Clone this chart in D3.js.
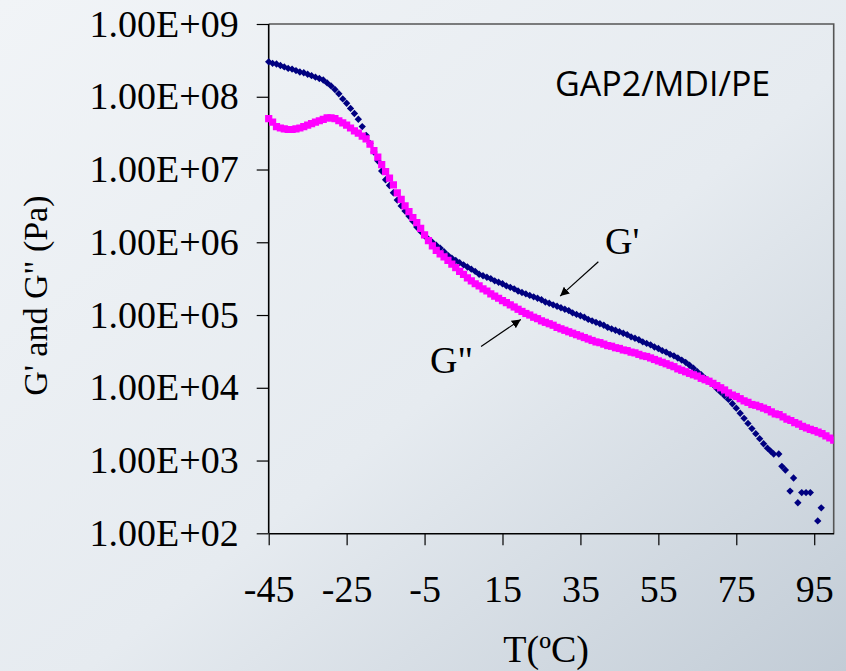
<!DOCTYPE html>
<html>
<head>
<meta charset="utf-8">
<script src="https://cdn.jsdelivr.net/npm/d3@7"></script>
<style>
  html, body { margin: 0; padding: 0; }
  body { width: 846px; height: 671px; overflow: hidden; }
  .axis text { font-family: "Liberation Serif", "Times New Roman", serif; font-size: 38px; fill: #000; }
  .axis line { stroke: #000; stroke-width: 1.2; }
  .axis path { stroke: #000; stroke-width: 1.6; }
</style>
</head>
<body>
<div id="chart"></div>
<script>
// temperatures (ºC) and moduli (Pa)
const tempG1 = [-45, -44, -43, -42, -41, -40, -39, -38, -37, -36, -35, -34, -33, -32, -31, -30,
  -29, -28, -27, -26, -25, -24, -23, -22, -21, -20, -19, -18, -17, -16, -15, -14, -13, -12,
  -11, -10, -9, -8, -7, -6, -5, -4, -3, -2, -1, 0, 1, 2, 3, 4, 5, 6, 7, 8, 9, 10, 11, 12,
  13, 14, 15, 16, 17, 18, 19, 20, 21, 22, 23, 24, 25, 26, 27, 28, 29, 30, 31, 32, 33, 34,
  35, 36, 37, 38, 39, 40, 41, 42, 43, 44, 45, 46, 47, 48, 49, 50, 51, 52, 53, 54, 55, 56,
  57, 58, 59, 60, 61, 62, 63, 64, 65, 66, 67, 68, 69, 70, 71, 72, 73, 74, 75, 76, 77, 78,
  79, 80, 81, 82, 83, 83.8, 84.6, 85.9, 86.7, 87.6, 88.8, 89.7, 90.8, 91.8, 92.9, 94.0,
  95.9, 96.8];
const gPrime = [3.02e8, 2.88e8, 2.82e8, 2.69e8, 2.57e8, 2.45e8, 2.40e8, 2.29e8, 2.19e8, 2.14e8,
  2.04e8, 1.95e8, 1.86e8, 1.78e8, 1.70e8, 1.55e8, 1.41e8, 1.26e8, 1.10e8, 9.33e7, 8.13e7,
  6.92e7, 5.89e7, 4.90e7, 3.89e7, 2.95e7, 2.29e7, 1.74e7, 1.32e7, 9.55e6, 7.24e6, 6.03e6,
  4.79e6, 3.80e6, 3.16e6, 2.69e6, 2.29e6, 1.95e6, 1.62e6, 1.41e6, 1.23e6, 1.10e6, 1.00e6,
  9.12e5, 8.32e5, 7.41e5, 6.61e5, 6.03e5, 5.62e5, 5.25e5, 4.90e5, 4.57e5, 4.27e5, 3.98e5,
  3.63e5, 3.47e5, 3.31e5, 3.16e5, 2.95e5, 2.82e5, 2.69e5, 2.51e5, 2.40e5, 2.29e5, 2.14e5,
  2.04e5, 1.95e5, 1.86e5, 1.78e5, 1.70e5, 1.62e5, 1.51e5, 1.45e5, 1.38e5, 1.32e5, 1.26e5,
  1.20e5, 1.15e5, 1.07e5, 1.02e5, 9.77e4, 9.33e4, 8.71e4, 8.32e4, 7.94e4, 7.59e4, 7.24e4,
  6.76e4, 6.46e4, 6.17e4, 5.89e4, 5.62e4, 5.37e4, 5.01e4, 4.79e4, 4.57e4, 4.27e4, 4.07e4,
  3.89e4, 3.63e4, 3.47e4, 3.24e4, 3.09e4, 2.88e4, 2.75e4, 2.57e4, 2.40e4, 2.24e4, 2.04e4,
  1.86e4, 1.66e4, 1.51e4, 1.35e4, 1.23e4, 1.12e4, 9.77e3, 8.71e3, 7.76e3, 6.92e3, 6.03e3,
  5.25e3, 4.47e3, 3.80e3, 3.24e3, 2.75e3, 2.34e3, 2.00e3, 1.70e3, 1.48e3, 1.35e3, 1.23e3,
  1.23e3, 8.32e2, 7.41e2, 3.80e2, 5.75e2, 2.63e2, 3.63e2, 3.63e2, 3.63e2, 1.48e2, 2.24e2];

const tempG2 = [-45, -44, -43, -42, -41, -40, -39, -38, -37, -36, -35, -34, -33, -32, -31, -30,
  -29, -28, -27, -26, -25, -24, -23, -22, -21, -20, -19, -18, -17, -16, -15, -14, -13, -12,
  -11, -10, -9, -8, -7, -6, -5, -4, -3, -2, -1, 0, 1, 2, 3, 4, 5, 6, 7, 8, 9, 10, 11, 12,
  13, 14, 15, 16, 17, 18, 19, 20, 21, 22, 23, 24, 25, 26, 27, 28, 29, 30, 31, 32, 33, 34,
  35, 36, 37, 38, 39, 40, 41, 42, 43, 44, 45, 46, 47, 48, 49, 50, 51, 52, 53, 54, 55, 56,
  57, 58, 59, 60, 61, 62, 63, 64, 65, 66, 67, 68, 69, 70, 71, 72, 73, 74, 75, 76, 77, 78,
  79, 80, 81, 82, 83, 84, 85, 86, 87, 88, 89, 90, 91, 92, 93, 94, 95, 96, 97, 98, 99, 100];
const gDouble = [5.01e7, 4.47e7, 3.89e7, 3.72e7, 3.63e7, 3.55e7, 3.55e7, 3.63e7, 3.72e7, 3.89e7,
  4.07e7, 4.27e7, 4.47e7, 4.68e7, 4.90e7, 5.13e7, 5.13e7, 5.01e7, 4.68e7, 4.37e7, 4.07e7,
  3.72e7, 3.39e7, 3.16e7, 2.88e7, 2.63e7, 2.24e7, 1.82e7, 1.48e7, 1.17e7, 9.33e6, 7.59e6,
  6.17e6, 4.79e6, 3.89e6, 3.16e6, 2.63e6, 2.19e6, 1.86e6, 1.55e6, 1.26e6, 1.05e6, 8.91e5,
  7.76e5, 6.92e5, 6.31e5, 5.62e5, 5.01e5, 4.47e5, 3.98e5, 3.63e5, 3.24e5, 2.95e5, 2.69e5,
  2.51e5, 2.29e5, 2.14e5, 1.95e5, 1.82e5, 1.70e5, 1.58e5, 1.48e5, 1.38e5, 1.29e5, 1.20e5,
  1.12e5, 1.05e5, 1.00e5, 9.33e4, 8.91e4, 8.32e4, 7.94e4, 7.59e4, 7.24e4, 6.76e4, 6.46e4,
  6.17e4, 5.89e4, 5.62e4, 5.37e4, 5.13e4, 4.90e4, 4.68e4, 4.47e4, 4.27e4, 4.17e4, 3.98e4,
  3.80e4, 3.72e4, 3.55e4, 3.47e4, 3.31e4, 3.24e4, 3.09e4, 3.02e4, 2.88e4, 2.75e4, 2.69e4,
  2.57e4, 2.45e4, 2.34e4, 2.24e4, 2.14e4, 2.04e4, 1.95e4, 1.82e4, 1.74e4, 1.66e4, 1.58e4,
  1.51e4, 1.45e4, 1.35e4, 1.29e4, 1.23e4, 1.15e4, 1.07e4, 1.00e4, 9.33e3, 8.51e3, 7.94e3,
  7.59e3, 7.08e3, 6.61e3, 6.31e3, 5.89e3, 5.75e3, 5.50e3, 5.25e3, 5.01e3, 4.68e3, 4.37e3,
  4.27e3, 3.98e3, 3.72e3, 3.55e3, 3.31e3, 3.16e3, 2.95e3, 2.82e3, 2.69e3, 2.57e3, 2.45e3,
  2.34e3, 2.19e3, 2.04e3, 1.91e3];

const xTicks = [-45, -25, -5, 15, 35, 55, 75, 95];
const xTickLabels = ['-45', '-25', '-5', '15', '35', '55', '75', '95'];
const yTicks = [1e2, 1e3, 1e4, 1e5, 1e6, 1e7, 1e8, 1e9];
const yTickLabels = ['1.00E+02', '1.00E+03', '1.00E+04', '1.00E+05', '1.00E+06', '1.00E+07', '1.00E+08', '1.00E+09'];

const w = 846, h = 671;
const margin = { top: 24, right: 12.3, bottom: 137.7, left: 268.7 };
const iw = w - margin.left - margin.right;
const ih = h - margin.top - margin.bottom;

const svg = d3.select('#chart').append('svg')
  .attr('width', w)
  .attr('height', h);

// soft grey-blue backdrop
const defs = svg.append('defs');
const grad = defs.append('linearGradient')
  .attr('id', 'bg').attr('x1', 0).attr('y1', 0).attr('x2', 1).attr('y2', 1);
grad.append('stop').attr('offset', '0%').attr('stop-color', '#f1f4f7');
grad.append('stop').attr('offset', '55%').attr('stop-color', '#e6ebf0');
grad.append('stop').attr('offset', '100%').attr('stop-color', '#c2ccd6');
svg.append('rect').attr('width', w).attr('height', h).attr('fill', 'url(#bg)');

const xScale = d3.scaleLinear().domain([-45, 100]).range([0, iw]);
const yScale = d3.scaleLog().domain([1e2, 1e9]).range([ih, 0]);

const g = svg.append('g').attr('transform', `translate(${margin.left},${margin.top})`);

// top and right frame
g.append('path')
  .attr('d', `M0,0H${iw}V${ih}`)
  .attr('fill', 'none')
  .attr('stroke', '#555')
  .attr('stroke-width', 1.6);

g.append('g')
  .attr('class', 'axis')
  .call(d3.axisLeft(yScale)
    .tickValues(yTicks)
    .tickFormat((d, i) => yTickLabels[i])
    .tickSize(12).tickSizeOuter(0).tickPadding(18))
  .call(a => a.select('.domain').attr('d', `M0,0V${ih}`));

g.append('g')
  .attr('class', 'axis')
  .attr('transform', `translate(0,${ih})`)
  .call(d3.axisBottom(xScale)
    .tickValues(xTicks)
    .tickFormat((d, i) => xTickLabels[i])
    .tickSize(12).tickSizeOuter(0).tickPadding(30));

const clip = defs.append('clipPath').attr('id', 'plot');
clip.append('rect').attr('x', -6).attr('y', -6).attr('width', iw + 6).attr('height', ih + 6);

const marks = g.append('g').attr('clip-path', 'url(#plot)');

const g1 = tempG1.map((t, i) => ({ t, v: gPrime[i] }));
const g2 = tempG2.map((t, i) => ({ t, v: gDouble[i] }));

marks.selectAll('path.gp')
  .data(g1)
  .enter()
  .append('path')
  .attr('class', 'gp')
  .attr('d', d3.symbol(d3.symbolSquare, 27))
  .attr('transform', d => `translate(${xScale(d.t)},${yScale(d.v)}) rotate(45)`)
  .attr('fill', '#000080');

marks.selectAll('path.gpp')
  .data(g2)
  .enter()
  .append('path')
  .attr('class', 'gpp')
  .attr('d', d3.symbol(d3.symbolSquare, 52))
  .attr('transform', d => `translate(${xScale(d.t)},${yScale(d.v)})`)
  .attr('fill', '#ff00ff');

// annotations
defs.append('marker')
  .attr('id', 'arrow')
  .attr('viewBox', '0 0 10 10')
  .attr('refX', 10).attr('refY', 5)
  .attr('markerWidth', 9).attr('markerHeight', 9)
  .attr('markerUnits', 'userSpaceOnUse')
  .attr('orient', 'auto')
  .append('path').attr('d', 'M0,0L10,5L0,10Z').attr('fill', '#000');

const arrows = [
  { from: [39.6, 5.4e5], to: [29.8, 1.82e5] },
  { from: [9.5, 3.7e4], to: [19.7, 8.7e4] }
];
g.selectAll('line.arrow')
  .data(arrows)
  .enter()
  .append('line')
  .attr('class', 'arrow')
  .attr('x1', d => xScale(d.from[0])).attr('y1', d => yScale(d.from[1]))
  .attr('x2', d => xScale(d.to[0])).attr('y2', d => yScale(d.to[1]))
  .attr('stroke', '#000').attr('stroke-width', 1.2)
  .attr('marker-end', 'url(#arrow)');

const serif = '"Liberation Serif", "Times New Roman", serif';
g.append('text')
  .attr('x', xScale(41.3)).attr('y', yScale(6.8e5))
  .attr('font-family', serif).attr('font-size', 38)
  .text("G'");
g.append('text')
  .attr('x', xScale(-3.6)).attr('y', yScale(1.6e4))
  .attr('font-family', serif).attr('font-size', 38)
  .text('G"');
g.append('text')
  .attr('x', xScale(28.5)).attr('y', yScale(1e8) - 0.3)
  .attr('font-family', '"Open Sans", sans-serif').attr('font-size', 34)
  .text('GAP2/MDI/PE');

svg.append('text')
  .attr('transform', `translate(47,${margin.top + ih / 2 + 17}) rotate(-90)`)
  .attr('text-anchor', 'middle')
  .attr('font-family', serif).attr('font-size', 34)
  .text('G\' and G" (Pa)');

svg.append('text')
  .attr('x', margin.left + iw / 2 - 5)
  .attr('y', 662)
  .attr('text-anchor', 'middle')
  .attr('font-family', serif).attr('font-size', 38)
  .text('T(ºC)');
</script>
</body>
</html>
